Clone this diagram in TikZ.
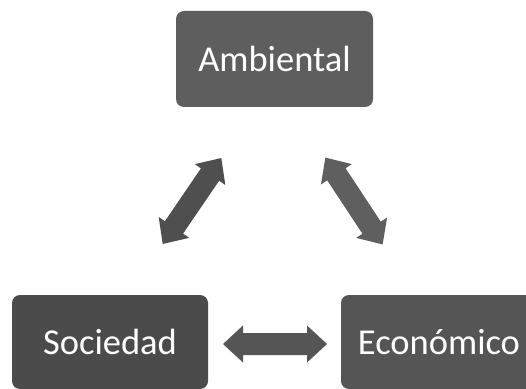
\documentclass[tikz,border=0pt]{standalone}
\usepackage{fontspec}
\setmainfont{Carlito}
\definecolor{boxA}{HTML}{5E5E5E}
\definecolor{boxS}{HTML}{4B4B4B}
\definecolor{boxE}{HTML}{555555}
\definecolor{arrL}{HTML}{4F4F4F}
\definecolor{arrR}{HTML}{5F5F5F}
\definecolor{arrB}{HTML}{555555}
\begin{document}
\begin{tikzpicture}[x=1pt,y=1pt,
  topicbox/.style={rounded corners=8pt, text=white, inner sep=0pt,
    font=\fontsize{36.5}{44}\selectfont},
  blockarrow/.pic={
    \fill (-52,0) -- (-32,18.5) -- (-32,11) -- (32,11) -- (32,18.5) -- (52,0)
      -- (32,-18.5) -- (32,-11) -- (-32,-11) -- (-32,-18.5) -- cycle;
  }]
\useasboundingbox (0,0) rectangle (526,388);
\node[topicbox, fill=boxA, minimum width=197pt, minimum height=96pt] (amb) at (274.5,329) {Ambiental};
\node[topicbox, fill=boxS, minimum width=196pt, minimum height=94pt] (soc) at (110,46) {Sociedad};
\node[topicbox, fill=boxE, minimum width=196pt, minimum height=94pt] (eco) at (439,46) {Económico};
\path[fill=arrL] (192,187) pic[rotate=55.7] {blockarrow};
\path[fill=arrR] (354,187) pic[rotate=-56.6] {blockarrow};
\path[fill=arrB] (275,44) pic {blockarrow};
\end{tikzpicture}
\end{document}
